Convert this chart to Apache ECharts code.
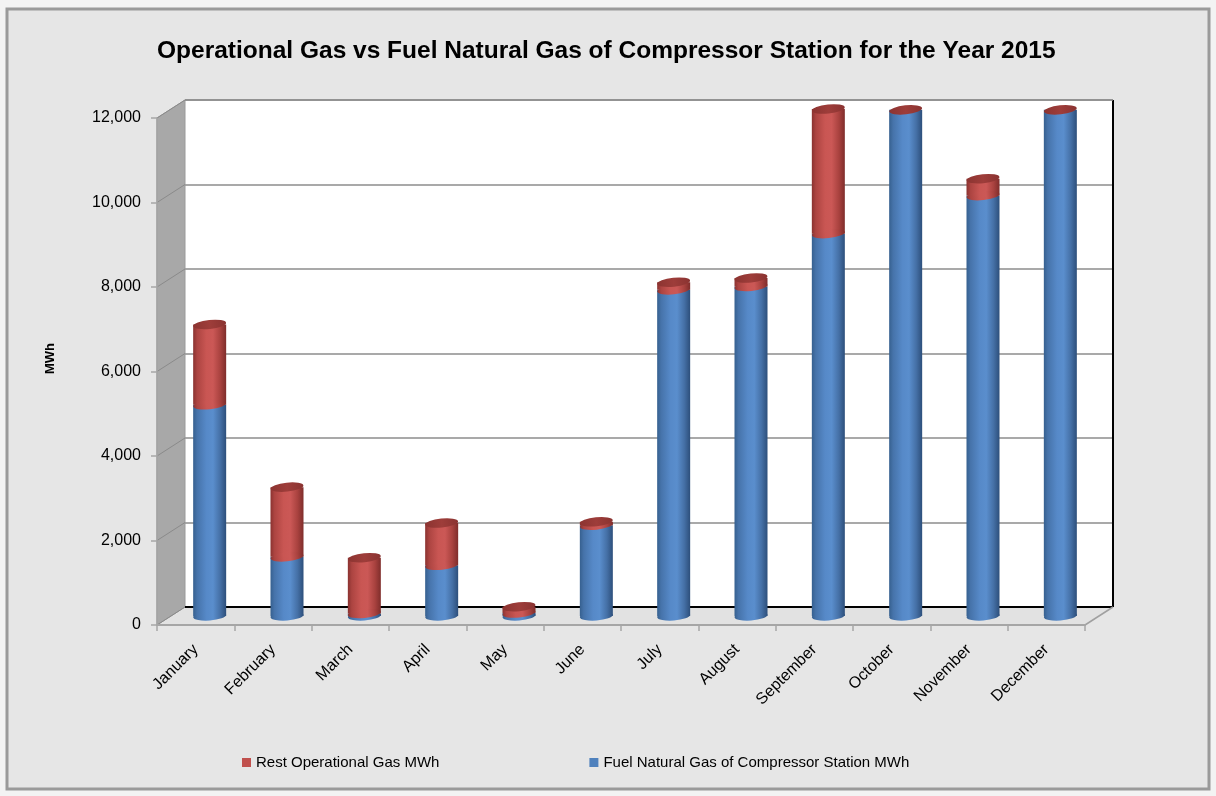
<!DOCTYPE html>
<html>
<head>
<meta charset="utf-8">
<script src="https://cdn.jsdelivr.net/npm/echarts@6/dist/echarts.min.js"></script>
<style>
html,body{margin:0;padding:0;background:#f3f3f3;}
#chart{width:1216px;height:796px;}
</style>
</head>
<body>
<div id="chart"></div>
<script>
// ---- data ----
const months = ['January','February','March','April','May','June','July','August','September','October','November','December'];
const fuelGas = [5000, 1400, 60, 1200, 70, 2150, 7720, 7800, 9050, 11980, 9950, 11980];
const restGas = [1900, 1650, 1320, 1000, 150, 80, 180, 200, 2950, 0, 400, 0];
const yTicks = [0, 2000, 4000, 6000, 8000, 10000, 12000];
const seriesNames = ['Rest Operational Gas MWh', 'Fuel Natural Gas of Compressor Station MWh'];

const totals = fuelGas.map((v, i) => v + restGas[i]);

// ---- layout (3D box faces) ----
const FRONT = {left: 157, top: 118, width: 928, height: 507};
const DX = 28, DY = 18;           // depth offset of the back wall
const MID = {left: FRONT.left + DX/2, top: FRONT.top - DY/2};
const BACK = {left: FRONT.left + DX, top: FRONT.top - DY};
const BAR_W = 33;
const Y_MIN = 0, Y_MAX = 12000, Y_INT = 2000;

function grad(stops){
  return {type:'linear', x:0, y:0, x2:1, y2:0, colorStops: stops.map(s => ({offset:s[0], color:s[1]}))};
}
const blueGrad = grad([[0,'#36608f'],[0.12,'#4673aa'],[0.4,'#5689c8'],[0.6,'#5a8ecd'],[0.82,'#4570a6'],[1,'#2d4f7b']]);
const redGrad  = grad([[0,'#8a3230'],[0.12,'#ac4441'],[0.4,'#c95653'],[0.6,'#cb5856'],[0.82,'#a9423f'],[1,'#7f2d2b']]);
const capGrad  = grad([[0,'#8c3431'],[0.5,'#9e3d3a'],[1,'#8a3331']]);

const chart = echarts.init(document.getElementById('chart'));

const fontFam = 'Liberation Sans, Arial, sans-serif';

function yFront(v){ return FRONT.top + FRONT.height * (1 - (v - Y_MIN)/(Y_MAX - Y_MIN)); }

const graphics = [];
// outer frame
graphics.push({type:'rect', z:-10, silent:true, shape:{x:7, y:9, width:1202, height:780},
  style:{fill:'#e6e6e6', stroke:'#9a9a9a', lineWidth:3}});
// floor
graphics.push({type:'polygon', z:1, silent:true, shape:{points:[
  [FRONT.left, FRONT.top+FRONT.height],[BACK.left, BACK.top+FRONT.height],
  [BACK.left+FRONT.width, BACK.top+FRONT.height],[FRONT.left+FRONT.width, FRONT.top+FRONT.height]]},
  style:{fill:'#e2e2e2', stroke:null}});
// side wall
graphics.push({type:'polygon', z:1, silent:true, shape:{points:[
  [FRONT.left, FRONT.top],[BACK.left, BACK.top],[BACK.left, BACK.top+FRONT.height],[FRONT.left, FRONT.top+FRONT.height]]},
  style:{fill:'#a8a8a8', stroke:'#9a9a9a', lineWidth:1}});
// side wall grid lines
yTicks.forEach(v => {
  const y = yFront(v);
  graphics.push({type:'line', z:1, silent:true, shape:{x1:FRONT.left, y1:y, x2:BACK.left, y2:y-DY},
    style:{stroke:'#8a8a8a', lineWidth:1}});
});
// back floor edge (black) and right wall edge
graphics.push({type:'line', z:1, silent:true, shape:{x1:BACK.left, y1:BACK.top+FRONT.height, x2:BACK.left+FRONT.width, y2:BACK.top+FRONT.height},
  style:{stroke:'#000', lineWidth:2}});
graphics.push({type:'line', z:1, silent:true, shape:{x1:BACK.left+FRONT.width, y1:BACK.top, x2:BACK.left+FRONT.width, y2:BACK.top+FRONT.height},
  style:{stroke:'#000', lineWidth:2}});
graphics.push({type:'line', z:1, silent:true, shape:{x1:BACK.left, y1:BACK.top, x2:BACK.left+FRONT.width, y2:BACK.top},
  style:{stroke:'#8c8c8c', lineWidth:1.5}});
// right floor edge
graphics.push({type:'line', z:1, silent:true, shape:{x1:FRONT.left+FRONT.width, y1:FRONT.top+FRONT.height, x2:BACK.left+FRONT.width, y2:BACK.top+FRONT.height},
  style:{stroke:'#a0a0a0', lineWidth:1.5}});

const option = {
  backgroundColor: '#f3f3f3',
  animation: false,
  textStyle: {fontFamily: fontFam},
  title: {
    text: 'Operational Gas vs Fuel Natural Gas of Compressor Station for the Year 2015',
    left: 152, top: 34,
    textStyle: {fontFamily: '"Liberation Sans Narrow", "Arial Narrow", ' + fontFam, fontWeight: 'bold', fontSize: 24.5, color: '#000'}
  },
  legend: {
    left: 237, top: 750, itemWidth: 9, itemHeight: 9, itemGap: 150, icon: 'rect',
    textStyle: {fontSize: 15, color: '#000', fontFamily: fontFam},
    data: [
      {name: seriesNames[0], itemStyle: {color: '#c0504d'}},
      {name: seriesNames[1], itemStyle: {color: '#4f81bd'}}
    ]
  },
  grid: [
    {left: BACK.left, top: BACK.top, width: FRONT.width, height: FRONT.height, show: true, backgroundColor: '#ffffff', borderWidth: 0, z: 0},
    {left: MID.left, top: MID.top, width: FRONT.width, height: FRONT.height},
    {left: FRONT.left, top: FRONT.top, width: FRONT.width, height: FRONT.height}
  ],
  xAxis: [
    {gridIndex: 0, type: 'category', data: months, show: false},
    {gridIndex: 1, type: 'category', data: months, show: false},
    {gridIndex: 2, type: 'category', data: months, z: 5,
      axisLine: {show: true, lineStyle: {color: '#a6a6a6', width: 2}},
      axisTick: {show: true, length: 6, lineStyle: {color: '#a6a6a6', width: 1.5}},
      axisLabel: {rotate: 45, margin: 22, fontSize: 16, color: '#000', fontFamily: fontFam}
    }
  ],
  yAxis: [
    {gridIndex: 0, type: 'value', min: Y_MIN, max: Y_MAX, interval: Y_INT,
      axisLine: {show: false}, axisTick: {show: false}, axisLabel: {show: false},
      splitLine: {show: true, lineStyle: {color: '#8c8c8c', width: 1.5}}},
    {gridIndex: 1, type: 'value', min: Y_MIN, max: Y_MAX, interval: Y_INT, show: false, splitLine: {show: false}},
    {gridIndex: 2, type: 'value', min: Y_MIN, max: Y_MAX, interval: Y_INT, z: 5,
      name: 'MWh', nameLocation: 'middle', nameGap: 100, nameRotate: 90,
      nameTextStyle: {fontWeight: 'bold', fontSize: 13, color: '#000', fontFamily: fontFam, padding: [0, 0, 0, 26]},
      axisLine: {show: true, lineStyle: {color: '#a6a6a6', width: 1.5}},
      axisTick: {show: true, length: 6, lineStyle: {color: '#a6a6a6', width: 1.5}},
      splitLine: {show: false},
      axisLabel: {margin: 16, fontSize: 16, color: '#000', fontFamily: fontFam,
        formatter: v => v.toLocaleString('en-US')}
    }
  ],
  series: [
    {name: seriesNames[1], type: 'bar', xAxisIndex: 1, yAxisIndex: 1, stack: 'gas', barWidth: BAR_W, z: 3,
      itemStyle: {color: blueGrad}, data: fuelGas},
    {name: seriesNames[0], type: 'bar', xAxisIndex: 1, yAxisIndex: 1, stack: 'gas', barWidth: BAR_W, z: 3,
      itemStyle: {color: redGrad}, data: restGas},
    // cylinder bottom
    {type: 'pictorialBar', xAxisIndex: 1, yAxisIndex: 1, symbol: 'circle', symbolSize: [BAR_W, 9],
      symbolOffset: [0, '50%'], symbolPosition: 'start', symbolRotate: 4, barGap: '-100%', z: 2, silent: true,
      itemStyle: {color: blueGrad}, data: fuelGas},
    // boundary between fuel and rest
    {type: 'pictorialBar', xAxisIndex: 1, yAxisIndex: 1, symbol: 'circle', symbolSize: [BAR_W, 9],
      symbolOffset: [0, '-50%'], symbolPosition: 'end', symbolRotate: 6, barGap: '-100%', z: 4, silent: true,
      itemStyle: {color: redGrad}, data: fuelGas.map((v, i) => restGas[i] > 0 ? v : '-')},
    // cylinder top cap
    {type: 'pictorialBar', xAxisIndex: 1, yAxisIndex: 1, symbol: 'circle', symbolSize: [BAR_W, 9],
      symbolOffset: [0, '-50%'], symbolPosition: 'end', symbolRotate: 6, barGap: '-100%', z: 5, silent: true,
      itemStyle: {color: capGrad}, data: totals}
  ],
  graphic: graphics
};
chart.setOption(option);
</script>
</body>
</html>
